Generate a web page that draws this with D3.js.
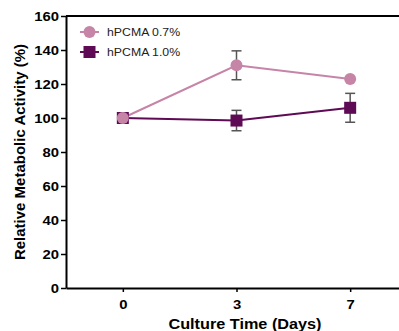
<!DOCTYPE html>
<html>
<head>
<meta charset="utf-8">
<script src="https://cdn.jsdelivr.net/npm/d3@7"></script>
<style>
  body { margin: 0; background: #fff; }
  text { font-family: Arial, "Liberation Sans", sans-serif; }
</style>
</head>
<body>
<script>
// culture days and the two series (mean, error)
var days = ["0", "3", "7"];
var series07 = [100, 131, 123];
var err07 = [0, 8.5, 0];
var series10 = [100, 98.5, 106];
var err10 = [0, 6, 8.5];
var yTicks = [0, 20, 40, 60, 80, 100, 120, 140, 160];

var width = 399, height = 331;
var margin = {left: 66, top: 16, right: -8, bottom: 43};

var svg = d3.select("body").append("svg")
    .attr("width", width)
    .attr("height", height);

var x = d3.scalePoint()
    .domain(days)
    .range([margin.left, width - margin.right])
    .padding(0.5);

var y = d3.scaleLinear()
    .domain([0, 160])
    .range([height - margin.bottom, margin.top]);

// frame top line
svg.append("line")
    .attr("x1", margin.left).attr("x2", width)
    .attr("y1", y(160)).attr("y2", y(160))
    .attr("stroke", "#000").attr("stroke-width", 2);

var yAxis = svg.append("g")
    .attr("transform", "translate(" + margin.left + ",0)")
    .call(d3.axisLeft(y).tickValues(yTicks).tickSize(5).tickPadding(2).tickSizeOuter(0));
yAxis.select(".domain").attr("stroke-width", 2);
yAxis.selectAll(".tick line").attr("stroke-width", 1.5);
yAxis.selectAll("text").attr("font-size", 13.5).attr("font-weight", "bold").attr("fill", "#000")
    .attr("transform", "scale(1.1,1)").attr("x", -7 / 1.1);

var xAxis = svg.append("g")
    .attr("transform", "translate(0," + y(0) + ")")
    .call(d3.axisBottom(x).tickSize(4).tickPadding(7).tickSizeOuter(0));
xAxis.select(".domain").attr("stroke-width", 2);
xAxis.selectAll(".tick line").attr("stroke-width", 1.5);
xAxis.selectAll("text").attr("font-size", 13.5).attr("font-weight", "bold").attr("fill", "#000")
    .attr("transform", "scale(1.1,1)");

svg.append("text")
    .attr("transform", "translate(25," + ((y(0) + y(160)) / 2) + ") rotate(-90)")
    .attr("text-anchor", "middle")
    .attr("font-size", 15).attr("font-weight", "bold")
    .text("Relative Metabolic Activity (%)");

svg.append("text")
    .attr("transform", "translate(245,329) scale(1.16,1)")
    .attr("text-anchor", "middle")
    .attr("font-size", 14).attr("font-weight", "bold")
    .text("Culture Time (Days)");

var pink = "#c684a7", purple = "#5e0a55";
var line = d3.line().x((d, i) => x(days[i])).y(d => y(d));

function drawErr(vals, errs) {
    var g = svg.append("g").attr("stroke", "#555").attr("stroke-width", 1.5);
    vals.forEach(function (v, i) {
        if (!errs[i]) return;
        var cx = x(days[i]);
        g.append("line").attr("x1", cx).attr("x2", cx).attr("y1", y(v - errs[i])).attr("y2", y(v + errs[i]));
        g.append("line").attr("x1", cx - 5).attr("x2", cx + 5).attr("y1", y(v - errs[i])).attr("y2", y(v - errs[i]));
        g.append("line").attr("x1", cx - 5).attr("x2", cx + 5).attr("y1", y(v + errs[i])).attr("y2", y(v + errs[i]));
    });
}

drawErr(series07, err07);
drawErr(series10, err10);

svg.append("path").datum(series10)
    .attr("fill", "none").attr("stroke", purple).attr("stroke-width", 2)
    .attr("d", line);
svg.append("path").datum(series07)
    .attr("fill", "none").attr("stroke", pink).attr("stroke-width", 2)
    .attr("d", line);

svg.selectAll(".sq").data(series10).join("rect")
    .attr("x", (d, i) => x(days[i]) - 6)
    .attr("y", d => y(d) - 6)
    .attr("width", 12).attr("height", 12)
    .attr("fill", purple);

svg.selectAll(".ci").data(series07).join("circle")
    .attr("cx", (d, i) => x(days[i]))
    .attr("cy", d => y(d))
    .attr("r", 6)
    .attr("fill", pink);

// legend
var legend = [
    {name: "hPCMA 0.7%", color: pink, shape: "circle"},
    {name: "hPCMA 1.0%", color: purple, shape: "square"}
];
legend.forEach(function (d, i) {
    var ly = 32 + i * 20;
    svg.append("line").attr("x1", 80).attr("x2", 99).attr("y1", ly).attr("y2", ly)
        .attr("stroke", d.color).attr("stroke-width", 2);
    if (d.shape === "circle") {
        svg.append("circle").attr("cx", 89.5).attr("cy", ly).attr("r", 6).attr("fill", d.color);
    } else {
        svg.append("rect").attr("x", 83.5).attr("y", ly - 6).attr("width", 12).attr("height", 12).attr("fill", d.color);
    }
    svg.append("text").attr("transform", "translate(107," + (ly + 4.2) + ") scale(1.07,1)")
        .attr("font-size", 11.5).attr("fill", "#222")
        .text(d.name);
});
</script>
</body>
</html>
